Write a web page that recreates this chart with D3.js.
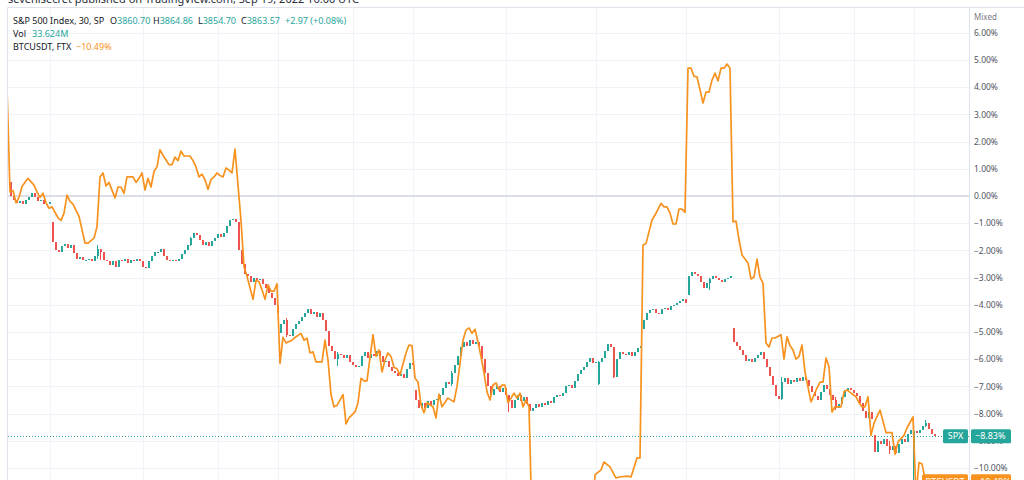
<!DOCTYPE html>
<html>
<head>
<meta charset="utf-8">
<script src="https://cdn.jsdelivr.net/npm/d3@7"></script>
<style>
  body { margin: 0; background: #fff; }
  svg { display: block; }
  text { font-family: "Noto Sans", "DejaVu Sans", sans-serif; }
</style>
</head>
<body>
<svg id="chart"></svg>
<script>
// S&P 500, 30 min closes in % from the start (one value per bar)
const spxClose = [
  0.0, -0.15, -0.25, -0.2, -0.3, -0.15, -0.05, 0.1, -0.05, -0.2,
  -0.15, -0.3, -0.28, -0.22, -1.7, -2.0, -2.05, -1.85, -1.75, -1.9,
  -1.8, -2.1, -2.3, -2.25, -2.35, -2.35, -2.3, -2.4, -2.2, -1.95,
  -2.05, -2.35, -2.4, -2.55, -2.4, -2.6, -2.35, -2.4, -2.3, -2.45,
  -2.35, -2.4, -2.3, -2.4, -2.6, -2.65, -2.4, -2.2, -2.05, -2.05,
  -1.95, -2.2, -2.35, -2.4, -2.35, -2.4, -2.3, -2.15, -2.0, -1.8,
  -1.55, -1.35, -1.45, -1.6, -1.8, -1.7, -1.85, -1.65, -1.55, -1.4,
  -1.5, -1.35, -1.1, -0.9, -0.85, -0.95, -2.0, -2.5, -2.85, -2.95,
  -3.15, -3.0, -3.1, -3.05, -3.25, -3.4, -3.55, -3.75, -4.0, -4.3,
  -4.7, -4.55, -5.1, -5.15, -4.9, -4.7, -4.6, -4.45, -4.3, -4.15,
  -4.35, -4.25, -4.45, -4.3, -4.55, -4.95, -5.5, -5.7, -6.0, -5.8,
  -5.85, -5.95, -5.85, -6.1, -6.2, -6.3, -6.25, -5.9, -5.75, -5.95,
  -5.8, -5.9, -5.7, -5.9, -6.1, -6.05, -6.3, -6.45, -6.5, -6.6,
  -6.55, -6.7, -6.35, -6.15, -6.2, -7.5, -7.8, -7.6, -7.8, -7.55,
  -7.7, -7.5, -7.45, -7.3, -7.05, -6.85, -6.9, -6.5, -6.2, -5.9,
  -5.55, -5.35, -5.5, -5.3, -5.45, -5.35, -5.5, -6.0, -6.5, -7.0,
  -7.3, -7.1, -7.0, -7.2, -7.05, -7.3, -7.5, -7.8, -7.5, -7.3,
  -7.55, -7.4, -7.65, -7.9, -7.8, -7.65, -7.75, -7.6, -7.7, -7.55,
  -7.6, -7.4, -7.3, -7.35, -7.25, -7.0, -6.95, -7.05, -6.8, -6.55,
  -6.4, -6.3, -6.1, -5.95, -6.15, -6.1, -6.1, -5.95, -5.7, -5.45,
  -5.55, -6.65, -6.0, -5.75, -5.8, -5.85, -5.75, -5.9, -5.75, -5.6,
  -5.5, -4.55, -4.3, -4.2, -4.15, -4.3, -4.35, -4.15, -4.1, -4.2,
  -4.05, -4.0, -3.95, -3.85, -3.8, -3.95, -2.95, -2.8, -2.85, -2.95,
  -3.15, -3.4, -3.2, -3.05, -2.95, -3.0, -3.1, -3.15, -3.05, -3.0,
  -2.95, -5.35, -5.5, -5.65, -5.85, -6.05, -6.0, -6.1, -5.95, -5.85,
  -5.75, -6.0, -6.3, -6.6, -6.95, -7.35, -7.45, -6.85, -6.7, -6.9,
  -6.75, -6.85, -6.7, -6.8, -6.65, -6.75, -7.0, -7.2, -7.35, -7.5,
  -7.2, -6.95, -7.1, -7.3, -7.5, -7.8, -7.65, -7.4, -7.15, -7.05,
  -7.15, -7.25, -7.35, -7.6, -7.9, -8.15, -7.95, -8.2, -9.4, -9.0,
  -9.1, -8.95, -9.2, -9.35, -9.2, -9.45, -9.1, -8.95, -9.05, -8.75,
  -8.6, -8.65, -8.7, -8.6, -8.45, -8.35, -8.55, -8.75, -8.83
];

// bars whose open is not the previous close: [bar, open]
const spxGapOpens = [
  [0, 0.5], [14, -0.95], [90, -5.05], [135, -7.15], [196, -6.9],
  [211, -4.9], [226, -3.65], [241, -4.85], [288, -8.8], [301, -9.4]
];

// visible wicks: [bar, high, low]
const spxWicks = [
  [29, -1.8, -2.3], [30, -1.95, -2.35], [60, -1.5, -1.85], [92, -4.5, -5.2],
  [109, -5.75, -6.25], [147, -6.45, -7.0], [166, -7.3, -7.95], [196, -6.05, -6.95],
  [201, -5.55, -6.7], [233, -3.0, -3.45], [257, -6.65, -7.5], [275, -7.4, -7.85],
  [293, -9.0, -9.5], [301, -8.55, -10.8], [305, -8.25, -8.5]
];

// BTCUSDT line, [bar, % change]
const btcPoints = [
  [-1, 4.0], [0, 0.15], [1, 0.2], [2, -0.25], [3, -0.05], [4, 0.35], [6, 0.65], [8, 0.4],
  [9, 0.15], [10, -0.05], [11, 0.1], [12, -0.25], [13, -0.45], [14, -0.4], [16, -0.8],
  [17, -0.9], [18, -0.63], [19, 0.03], [20, -0.2], [21, -0.3], [23, -0.75], [25, -1.73],
  [26, -1.73], [28, -1.55], [29, -1.13], [30, 0.7], [31, 0.85], [32, 0.37], [33, 0.5],
  [35, -0.07], [36, 0.33], [37, 0.33], [38, 0.1], [39, 0.7], [41, 0.7], [42, 0.5],
  [43, 0.65], [44, 0.85], [45, 0.22], [46, 0.65], [47, 0.33], [48, 0.9], [49, 1.07],
  [50, 1.7], [51, 1.5], [53, 1.15], [54, 1.15], [55, 1.43], [56, 1.3], [57, 1.65],
  [58, 1.47], [60, 1.47], [61, 1.3], [62, 1.07], [63, 0.7], [64, 0.8], [65, 0.6],
  [66, 0.25], [67, 0.6], [68, 0.7], [69, 0.85], [70, 0.75], [71, 0.7], [72, 1.03],
  [73, 0.95], [74, 0.85], [75, 1.72], [76, 0.4], [77, -0.9], [78, -2.6], [79, -2.95],
  [81, -3.8], [82, -3.1], [83, -3.15], [84, -3.45], [85, -3.8], [86, -3.27], [87, -3.5],
  [88, -3.5], [89, -3.23], [90, -6.15], [91, -5.2], [92, -5.4], [94, -5.3], [95, -5.2],
  [97, -5.05], [98, -5.3], [99, -5.23], [100, -5.77], [101, -5.73], [102, -6.1], [104, -6.1],
  [105, -5.3], [106, -6.03], [107, -7.3], [108, -7.75], [109, -7.7], [111, -7.3], [112, -8.38],
  [113, -8.16], [115, -7.94], [116, -7.6], [117, -6.7], [118, -6.8], [119, -6.8], [121, -5.1],
  [122, -5.9], [123, -5.66], [124, -6.47], [125, -6.03], [126, -5.77], [127, -5.9], [128, -6.3],
  [129, -6.35], [130, -6.58], [132, -5.77], [133, -5.48], [134, -5.5], [135, -6.7], [136, -6.84],
  [137, -7.68], [138, -7.97], [139, -7.6], [141, -7.75], [142, -8.16], [143, -7.28], [144, -7.75],
  [146, -7.43], [148, -7.57], [149, -7.0], [151, -5.3], [152, -4.93], [153, -4.85], [154, -5.05],
  [155, -4.9], [156, -5.37], [157, -5.9], [158, -6.5], [159, -7.2], [160, -7.5], [161, -6.95],
  [162, -6.87], [163, -7.13], [164, -6.95], [165, -6.95], [166, -7.6], [167, -7.43], [168, -7.25],
  [169, -7.43], [170, -7.25], [171, -7.75], [172, -7.5], [173, -7.75], [174, -12], [194, -12],
  [195, -10.25], [197, -10.07], [198, -9.78], [200, -9.96], [202, -10.37], [203, -10.33],
  [206, -10.3], [207, -10.33], [209, -9.63], [210, -9.63], [211, -1.8], [212, -1.75],
  [214, -0.88], [215, -0.7], [217, -0.27], [218, -0.4], [219, -0.4], [220, -0.63], [221, -1.03],
  [222, -1.03], [223, -0.48], [224, -0.48], [225, -0.6], [226, 4.7], [227, 4.7], [228, 4.4],
  [229, 4.38], [231, 3.42], [232, 3.82], [233, 3.82], [234, 4.26], [235, 4.52], [236, 4.23],
  [237, 4.7], [238, 4.7], [239, 4.85], [240, 4.7], [241, -0.95], [242, -0.92], [243, -1.6],
  [244, -2.17], [246, -2.46], [247, -3.05], [248, -2.98], [249, -2.32], [250, -2.98], [251, -3.2],
  [252, -5.4], [253, -5.55], [254, -5.22], [255, -5.22], [257, -5.1], [258, -6.0], [259, -5.18],
  [260, -5.5], [261, -5.66], [262, -6.0], [263, -5.9], [264, -5.48], [265, -6.47], [267, -7.57],
  [269, -7.06], [270, -6.84], [271, -6.84], [272, -5.96], [273, -6.28], [274, -7.94], [275, -7.75],
  [277, -7.75], [278, -7.2], [279, -7.13], [281, -7.3], [282, -7.38], [283, -7.6], [284, -7.75],
  [285, -7.75], [286, -7.38], [287, -8.8], [288, -8.35], [290, -7.87], [292, -8.7], [294, -8.7],
  [295, -9.5], [296, -9.04], [298, -8.8], [299, -8.53], [301, -8.12], [302, -11], [303, -9.8],
  [304, -9.85], [305, -10.4], [308, -10.45]
];

// vertical grid lines (bar index of each session mark)
const gridBars = [14, 45, 70, 90, 115, 135, 166, 196, 226, 257, 282, 302];
const pctTicks = [6, 5, 4, 3, 2, 1, 0, -1, -2, -3, -4, -5, -6, -7, -8, -9, -10];

const spxLast = -8.83;
const btcLast = -10.49;

const width = 1024;
const height = 480;
const pane = { left: 8, right: 969, top: 8, bottom: 480 };
const upColor = '#26a69a';
const downColor = '#ef5350';
const btcColor = '#f7921e';

const svg = d3.select('#chart')
  .attr('width', width)
  .attr('height', height);

const x = d3.scaleLinear().domain([0, spxClose.length - 1]).range([10, 934]);
const y = d3.scaleLinear().domain([6, -10]).range([32.8, 468]);

svg.append('defs').append('clipPath')
  .attr('id', 'pane-clip')
  .append('rect')
  .attr('x', pane.left)
  .attr('y', pane.top)
  .attr('width', pane.right - pane.left)
  .attr('height', pane.bottom - pane.top);

// watermark line at the very top (mostly cut off)
svg.append('text')
  .attr('x', 8)
  .attr('y', 3)
  .attr('font-size', '11px')
  .attr('fill', '#2a2e39')
  .text('sevenisecret published on TradingView.com, Sep 19, 2022 16:00 UTC');

// pane borders
svg.append('line')
  .attr('x1', pane.left - 0.5).attr('x2', width)
  .attr('y1', pane.top - 0.5).attr('y2', pane.top - 0.5)
  .attr('stroke', '#e0e3eb');
svg.append('line')
  .attr('x1', pane.left - 0.5).attr('x2', pane.left - 0.5)
  .attr('y1', pane.top - 0.5).attr('y2', height)
  .attr('stroke', '#e0e3eb');
svg.append('line')
  .attr('x1', pane.right + 0.5).attr('x2', pane.right + 0.5)
  .attr('y1', pane.top - 0.5).attr('y2', height)
  .attr('stroke', '#e0e3eb');

const plot = svg.append('g').attr('clip-path', 'url(#pane-clip)');

// grid
plot.append('g')
  .selectAll('line')
  .data(pctTicks.filter(d => d !== 0))
  .enter()
  .append('line')
  .attr('x1', pane.left).attr('x2', pane.right)
  .attr('y1', d => Math.round(y(d)) + 0.5)
  .attr('y2', d => Math.round(y(d)) + 0.5)
  .attr('stroke', '#f0f3fa');

plot.append('g')
  .selectAll('line')
  .data(gridBars)
  .enter()
  .append('line')
  .attr('x1', d => Math.round(x(d)) - 1.5)
  .attr('x2', d => Math.round(x(d)) - 1.5)
  .attr('y1', pane.top).attr('y2', pane.bottom)
  .attr('stroke', '#f0f3fa');

// zero line
plot.append('line')
  .attr('x1', pane.left).attr('x2', pane.right)
  .attr('y1', y(0)).attr('y2', y(0))
  .attr('stroke', '#dcdee6')
  .attr('stroke-width', 2);

// last price dotted line for SPX
plot.append('line')
  .attr('x1', pane.left).attr('x2', pane.right)
  .attr('y1', Math.round(y(spxLast)) + 0.5)
  .attr('y2', Math.round(y(spxLast)) + 0.5)
  .attr('stroke', upColor)
  .attr('stroke-dasharray', '1,2');

// candles
const gapOpen = new Map(spxGapOpens);
const wickMap = new Map(spxWicks.map(d => [d[0], [d[1], d[2]]]));
const candles = spxClose.map((c, i) => {
  const o = gapOpen.has(i) ? gapOpen.get(i) : spxClose[i - 1];
  const [hi, lo] = wickMap.get(i) || [Math.max(o, c), Math.min(o, c)];
  return { i, o, c, hi, lo };
});

const candleG = plot.append('g').attr('shape-rendering', 'crispEdges');

candleG.selectAll('.wick')
  .data(candles.filter(d => wickMap.has(d.i)))
  .enter()
  .append('line')
  .attr('class', 'wick')
  .attr('x1', d => x(d.i) + 0.5)
  .attr('x2', d => x(d.i) + 0.5)
  .attr('y1', d => y(d.hi))
  .attr('y2', d => y(d.lo))
  .attr('stroke', d => d.c >= d.o ? upColor : downColor)
  .attr('stroke-width', 1);

candleG.selectAll('.body')
  .data(candles)
  .enter()
  .append('rect')
  .attr('class', 'body')
  .attr('x', d => x(d.i) - 0.5)
  .attr('width', 2)
  .attr('y', d => y(Math.max(d.o, d.c)))
  .attr('height', d => Math.max(1, y(Math.min(d.o, d.c)) - y(Math.max(d.o, d.c))))
  .attr('fill', d => d.c >= d.o ? upColor : downColor);

// BTC line
plot.append('path')
  .datum(btcPoints)
  .attr('fill', 'none')
  .attr('stroke', btcColor)
  .attr('stroke-width', 1.7)
  .attr('stroke-linejoin', 'round')
  .attr('d', d3.line().x(d => x(d[0])).y(d => y(d[1])));

// right price scale labels
const axis = svg.append('g')
  .attr('transform', `translate(${pane.right + 5},0)`)
  .call(d3.axisRight(y)
    .tickValues(pctTicks)
    .tickSize(0)
    .tickPadding(0)
    .tickFormat(d => (d < 0 ? '\u2212' : '') + Math.abs(d).toFixed(2) + '%'));
axis.select('.domain').remove();
axis.selectAll('text')
  .attr('font-family', '"Noto Sans", sans-serif')
  .attr('font-size', '8.5px')
  .attr('fill', '#50535e');

svg.append('text')
  .attr('x', pane.right + 5)
  .attr('y', 20)
  .attr('font-size', '8px')
  .attr('fill', '#787b86')
  .text('Mixed');

// price badges
function badge(value, label, color, labelWidth) {
  const cy = y(value);
  const g = svg.append('g');
  g.append('rect')
    .attr('x', pane.right - 1 - labelWidth)
    .attr('y', cy - 7)
    .attr('width', labelWidth)
    .attr('height', 14)
    .attr('rx', 1.5)
    .attr('fill', color);
  g.append('text')
    .attr('x', pane.right - 1 - labelWidth / 2)
    .attr('y', cy + 3.2)
    .attr('text-anchor', 'middle')
    .attr('font-size', '9px')
    .attr('fill', '#fff')
    .text(label);
  g.append('rect')
    .attr('x', pane.right + 2)
    .attr('y', cy - 7)
    .attr('width', 40)
    .attr('height', 14)
    .attr('rx', 1.5)
    .attr('fill', color);
  g.append('text')
    .attr('x', pane.right + 6)
    .attr('y', cy + 3.2)
    .attr('font-size', '9px')
    .attr('fill', '#fff')
    .text((value < 0 ? '\u2212' : '') + Math.abs(value).toFixed(2) + '%');
}
badge(btcLast, 'BTCUSDT', btcColor, 46);
badge(spxLast, 'SPX', upColor, 25);

// legend
const legend = svg.append('g').attr('font-size', '9px');
const row1 = legend.append('text').attr('x', 13).attr('y', 24).attr('fill', '#131722');
row1.append('tspan').text('S&P 500 Index, 30, SP');
[['O', '3860.70', 110], ['H', '3864.86', 153], ['L', '3854.70', 198], ['C', '3863.57', 241]]
  .forEach(([k, v, px]) => {
    row1.append('tspan').attr('x', px).attr('fill', '#131722').text(k);
    row1.append('tspan').attr('fill', upColor).text(v);
  });
row1.append('tspan').attr('x', 285).attr('fill', upColor).text('+2.97 (+0.08%)');

const row2 = legend.append('text').attr('x', 13).attr('y', 37).attr('fill', '#131722');
row2.append('tspan').text('Vol');
row2.append('tspan').attr('x', 32).attr('fill', upColor).text('33.624M');

const row3 = legend.append('text').attr('x', 13).attr('y', 50).attr('fill', '#131722');
row3.append('tspan').text('BTCUSDT, FTX');
row3.append('tspan').attr('x', 76).attr('fill', btcColor).text('\u221210.49%');
</script>
</body>
</html>
